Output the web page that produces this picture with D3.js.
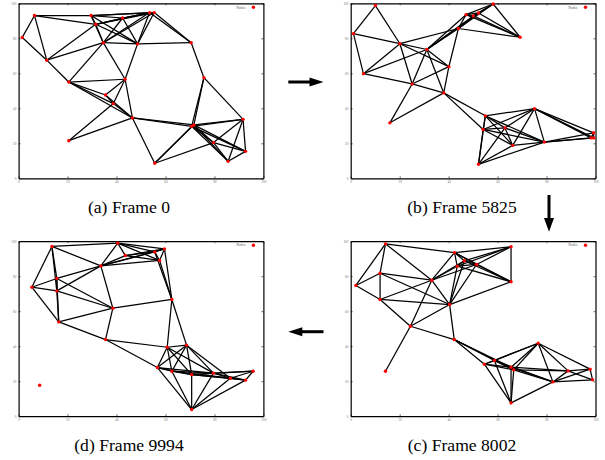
<!DOCTYPE html>
<html>
<head>
<meta charset="utf-8">
<script src="https://cdn.jsdelivr.net/npm/d3@7/dist/d3.min.js"></script>
<style>
  body { margin:0; background:#fff; }
</style>
</head>
<body>
<svg width="605" height="460"></svg>
<script>
//****************************** data *************************************//
var ticks = [0, 20, 40, 60, 80, 100];
var legendLabel = "Nodes";
var captions = ["(a) Frame 0", "(b) Frame 5825", "(c) Frame 8002", "(d) Frame 9994"];

// frame 0
var nodesA = [[1.5,80.5],[6.5,93],[11.5,67.5],[20.5,55],[20.5,21.5],[29.6,93],[31.5,88],
  [34.6,77.5],[35.5,47.6],[38.7,42.7],[42.5,91.6],[43.5,56.6],[46.5,34.5],[48.6,76.8],
  [53.5,94.7],[55.4,94.7],[55.6,8.6],[70.5,77.5],[70.7,29.7],[71.6,30.5],[75.7,57.5],
  [79.6,20.4],[85.6,9.7],[91.7,33.7],[92.7,15.4]];
var edgesA = [[0,1],[0,2],[1,2],[1,5],[1,6],[2,3],[2,6],[2,7],[3,7],[3,8],[3,9],[3,11],[3,12],
  [4,9],[4,12],[5,6],[5,7],[5,10],[5,13],[5,14],[5,15],[6,7],[6,10],[6,13],[6,14],[6,15],
  [7,10],[7,11],[7,13],[7,14],[7,15],[8,9],[8,11],[8,12],[9,11],[9,12],[10,13],[10,14],[10,15],
  [11,12],[11,13],[12,16],[12,18],[12,19],[13,14],[13,15],[13,17],[14,15],[14,17],[15,17],
  [16,18],[16,19],[16,21],[17,20],[18,19],[18,20],[18,21],[18,22],[18,23],[18,24],[19,20],
  [19,21],[19,22],[19,23],[19,24],[20,23],[21,22],[21,23],[21,24],[22,23],[22,24],[23,24]];

// frame 5825
var nodesB = [[1.1,82.7],[10.1,98.7],[5.2,59.8],[20.1,76.9],[16.0,31.7],[25.1,53.9],[31.1,73.6],
  [38.0,48.8],[40.1,63.8],[44.0,85.6],[47.1,93.5],[50.1,92.8],[52.2,94.5],[58.2,99.6],
  [69.2,80.6],[55.0,35.7],[54.1,27.9],[63.0,28.8],[66.2,18.8],[52.2,8.0],[75.1,39.8],
  [79.1,20.7],[99.2,26.0],[98.2,23.1],[99.3,23.1]];
var edgesB = [[0,1],[0,2],[0,3],[1,3],[2,3],[2,5],[2,6],[3,5],[3,6],[3,8],[3,9],[4,5],[4,7],
  [5,6],[5,7],[5,8],[6,7],[6,8],[6,9],[6,10],[6,11],[6,12],[7,8],[7,15],[7,16],[8,9],
  [9,10],[9,11],[9,12],[9,13],[9,14],[10,11],[10,12],[10,13],[10,14],[11,12],[11,13],[11,14],
  [12,13],[12,14],[13,14],[15,16],[15,17],[15,18],[15,19],[15,20],[15,21],[16,17],[16,18],
  [16,19],[16,20],[16,21],[17,18],[17,19],[17,20],[17,21],[18,19],[18,20],[18,21],[19,21],
  [20,21],[20,22],[20,23],[20,24],[21,22],[21,23],[21,24],[22,23],[22,24],[23,24]];

// frame 8002
var nodesC = [[2.1,74.7],[14.2,98.5],[12.0,81.7],[12.0,66.7],[24.4,51.4],[14.2,25.7],[33.1,77.7],
  [42.4,93.5],[46.4,88.8],[43.5,85.7],[51.4,86.7],[65.5,96.8],[65.5,76.8],[40.4,63.8],
  [42.3,43.8],[54.6,29.7],[58.7,31.8],[65.5,28.0],[66.6,26.5],[65.5,7.6],[76.6,41.7],
  [82.6,19.6],[88.8,25.9],[97.8,26.9],[98.8,20.8]];
var edgesC = [[0,1],[0,2],[0,3],[1,2],[1,6],[1,7],[2,3],[2,6],[2,13],[3,4],[3,6],[3,13],
  [4,5],[4,6],[4,13],[4,14],[6,7],[6,8],[6,9],[6,10],[6,13],[7,8],[7,9],[7,10],[7,11],[7,12],
  [8,9],[8,10],[8,11],[8,12],[8,13],[9,10],[9,11],[9,12],[9,13],[10,11],[10,12],[10,13],
  [11,12],[12,13],[13,14],[14,15],[14,16],[14,17],[14,18],[15,16],[15,17],[15,18],[15,19],
  [15,20],[16,17],[16,18],[16,19],[16,20],[16,21],[17,18],[17,19],[17,20],[17,21],[17,22],
  [18,19],[18,20],[18,21],[18,22],[19,21],[20,21],[20,22],[20,23],[21,22],[21,23],[21,24],
  [22,23],[22,24],[23,24]];

// frame 9994
var nodesD = [[5.4,73.7],[13.6,97.0],[15.6,78.7],[15.6,71.6],[16.4,53.9],[8.6,17.7],[33.6,85.9],
  [38.5,61.7],[35.5,43.8],[40.5,98.9],[43.6,91.8],[55.6,93.9],[59.6,95.6],[57.6,89.0],
  [62.6,66.7],[60.7,39.4],[68.6,40.6],[56.7,27.8],[62.6,25.7],[70.7,23.8],[79.6,24.6],
  [86.5,21.7],[92.7,20.6],[95.8,25.7],[70.7,3.8]];
var edgesD = [[0,1],[0,2],[0,3],[0,4],[1,2],[1,3],[1,6],[1,9],[2,3],[2,4],[2,6],[2,7],[3,4],
  [3,6],[3,7],[4,7],[4,8],[6,7],[6,9],[6,10],[6,11],[6,12],[6,13],[7,8],[7,14],[8,15],[8,17],
  [9,10],[9,11],[9,12],[9,13],[10,11],[10,12],[10,13],[11,12],[11,13],[11,14],[12,13],[12,14],
  [13,14],[14,15],[14,16],[15,16],[15,17],[15,18],[15,19],[15,20],[16,17],[16,18],[16,19],
  [16,20],[16,21],[17,18],[17,19],[17,20],[17,24],[18,19],[18,20],[18,21],[18,24],[19,20],
  [19,21],[19,22],[19,23],[19,24],[20,21],[20,22],[20,23],[20,24],[21,22],[21,23],[21,24],
  [22,23],[22,24]];

//****************************** layout ***********************************//
var svg = d3.select("svg");
var panelW = 244.8, panelH = 175;

var panels = [
  {nodes:nodesA, edges:edgesA, caption:captions[0], left:18.6,  top:3.3, capX:129, capY:213.3},
  {nodes:nodesB, edges:edgesB, caption:captions[1], left:350.7, top:3.3, capX:462, capY:213.3},
  {nodes:nodesC, edges:edgesC, caption:captions[2], left:350.7, top:241.2, capX:462, capY:450.7},
  {nodes:nodesD, edges:edgesD, caption:captions[3], left:18.6,  top:241.2, capX:129, capY:450.7}
];

var drawPanel = function(p)
{
  var xScale = d3.scaleLinear().domain([0,100]).range([p.left, p.left + panelW]);
  var yScale = d3.scaleLinear().domain([0,100]).range([p.top + panelH, p.top]);
  var g = svg.append("g");

  // links
  g.append("g").selectAll("line")
    .data(p.edges)
    .enter()
    .append("line")
    .attr("x1", function(d){ return xScale(p.nodes[d[0]][0]); })
    .attr("y1", function(d){ return yScale(p.nodes[d[0]][1]); })
    .attr("x2", function(d){ return xScale(p.nodes[d[1]][0]); })
    .attr("y2", function(d){ return yScale(p.nodes[d[1]][1]); })
    .attr("stroke", "#000")
    .attr("stroke-width", 1.25);

  // axes, ticks point inward on all four sides
  var axes = [
    {axis:d3.axisBottom(xScale), tr:"translate(0," + (p.top + panelH) + ")", lab:true},
    {axis:d3.axisTop(xScale),    tr:"translate(0," + p.top + ")", lab:false},
    {axis:d3.axisLeft(yScale),   tr:"translate(" + p.left + ",0)", lab:true},
    {axis:d3.axisRight(yScale),  tr:"translate(" + (p.left + panelW) + ",0)", lab:false}
  ];
  axes.forEach(function(a)
  {
    a.axis.tickValues(ticks).tickSizeInner(-2).tickSizeOuter(0).tickPadding(2.2);
    if (!a.lab) { a.axis.tickFormat(""); }
    var ag = g.append("g")
      .attr("transform", a.tr)
      .call(a.axis)
      .attr("font-size", 3.4)
      .attr("font-family", "'Liberation Serif', serif");
    ag.select(".domain").attr("stroke", "#000").attr("stroke-width", 1.2);
    ag.selectAll(".tick line").attr("stroke", "#000").attr("stroke-width", 0.6);
    ag.selectAll(".tick text").attr("fill", "#777");
  });

  // nodes
  g.append("g").selectAll("circle")
    .data(p.nodes)
    .enter()
    .append("circle")
    .attr("cx", function(d){ return xScale(d[0]); })
    .attr("cy", function(d){ return yScale(d[1]); })
    .attr("r", 1.7)
    .attr("fill", "#ff0000");

  // legend
  var right = p.left + panelW;
  g.append("text")
    .attr("x", right - 18)
    .attr("y", p.top + 5.2)
    .attr("text-anchor", "end")
    .attr("font-size", 3.6)
    .attr("font-family", "'Liberation Serif', serif")
    .attr("fill", "#555")
    .text(legendLabel);
  g.append("circle")
    .attr("cx", right - 10)
    .attr("cy", p.top + 4)
    .attr("r", 1.7)
    .attr("fill", "#ff0000");

  // caption
  svg.append("text")
    .attr("x", p.capX)
    .attr("y", p.capY)
    .attr("text-anchor", "middle")
    .attr("font-family", "'Liberation Serif', 'Times New Roman', serif")
    .attr("font-size", 17.6)
    .attr("fill", "#000")
    .text(p.caption);
};

panels.forEach(drawPanel);

//****************************** arrows ***********************************//
var arrows = svg.append("g").attr("fill", "#000").attr("stroke", "none");
// right (a -> b)
arrows.append("rect").attr("x", 288.3).attr("y", 80.5).attr("width", 22).attr("height", 3);
arrows.append("path").attr("d", "M309.5,77.5 L323.5,82 L309.5,86.5 Z");
// down (b -> c)
arrows.append("rect").attr("x", 547.5).attr("y", 195).attr("width", 3).attr("height", 24);
arrows.append("path").attr("d", "M544,218 L554,218 L549,231.7 Z");
// left (c -> d)
arrows.append("rect").attr("x", 301.5).attr("y", 330.2).attr("width", 22).attr("height", 3);
arrows.append("path").attr("d", "M288.3,331.7 L302.3,327.2 L302.3,336.2 Z");
</script>
</body>
</html>
